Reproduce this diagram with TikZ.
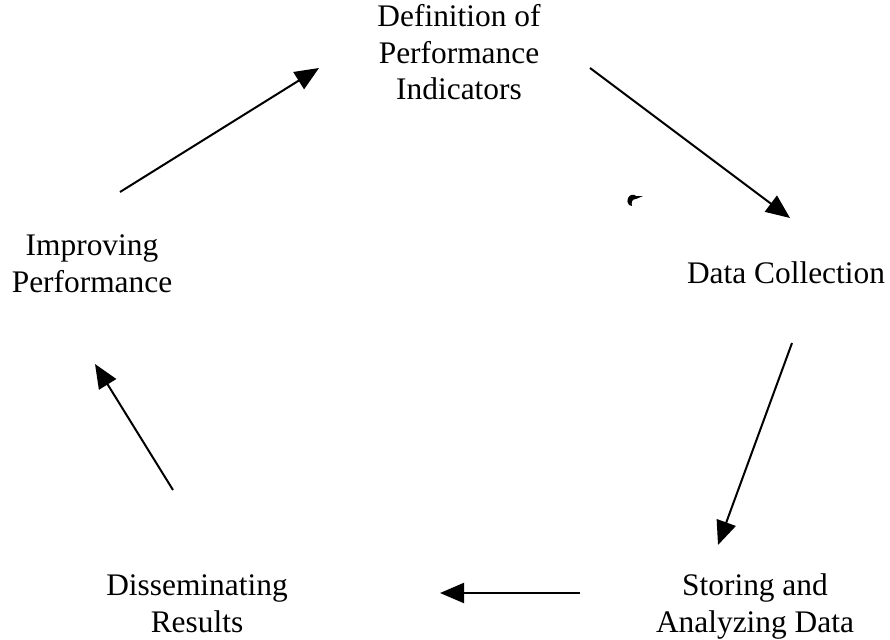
\documentclass[tikz,border=0pt]{standalone}
\usepackage{fontspec}
\setmainfont{Liberation Serif}
\usetikzlibrary{arrows.meta}
\begin{document}
\begin{tikzpicture}[x=1pt,y=-1pt,
  lbl/.style={align=center,inner sep=0pt,font=\fontsize{31.4}{36.5}\selectfont},
  flow/.style={line width=2pt,-{Triangle[length=24pt,width=20pt]}}]
\useasboundingbox (0,0) rectangle (890,639);
\node[lbl,anchor=base] (def) at (459,100) {Definition of\\Performance\\Indicators};
\node[lbl,anchor=base] (imp) at (92,292) {Improving\\Performance};
\node[lbl,anchor=base] (dat) at (786,283) {Data Collection};
\node[lbl,anchor=base] (sto) at (755,632) {Storing and\\Analyzing Data};
\node[lbl,anchor=base] (dis) at (197,632) {Disseminating\\Results};
\coordinate (a1s) at (120,192); \coordinate (a1e) at (319,68);
\coordinate (a2s) at (590,68);  \coordinate (a2e) at (790,218);
\coordinate (a3s) at (792,343); \coordinate (a3e) at (718,545);
\coordinate (a4s) at (580,593); \coordinate (a4e) at (440,593);
\coordinate (a5s) at (173,490); \coordinate (a5e) at (95,364);
\draw[flow] (a1s) -- (a1e);
\draw[flow] (a2s) -- (a2e);
\draw[flow] (a3s) -- (a3e);
\draw[flow] (a4s) -- (a4e);
\draw[flow] (a5s) -- (a5e);
\fill (628,198) .. controls (630,194) and (634,194) .. (636,196) -- (643,196) -- (636,199) .. controls (632,199) and (631,202) .. (632,206) -- (629,205) .. controls (627,203) and (627,200) .. (628,198) -- cycle;
\end{tikzpicture}
\end{document}
